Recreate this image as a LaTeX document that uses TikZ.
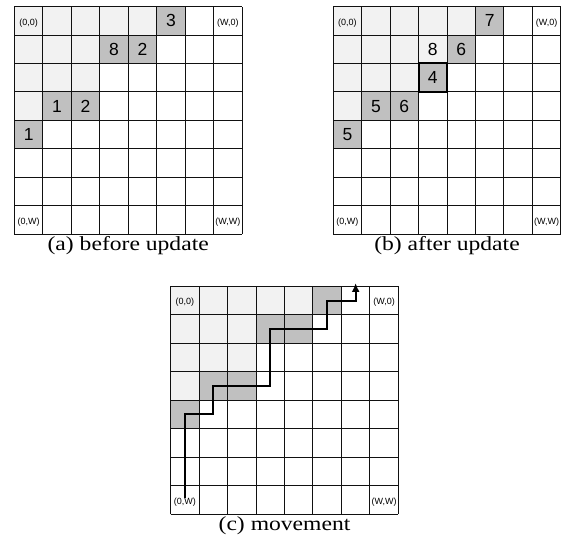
\documentclass[tikz,border=0pt]{standalone}
\usepackage{fontspec}
\setmainfont{Liberation Serif}
\setsansfont{Liberation Sans}
\usepackage{tikz}
\usetikzlibrary{arrows.meta,positioning}
\definecolor{pale}{HTML}{F2F2F2}
\definecolor{shade}{HTML}{C0C0C0}
\definecolor{ink}{HTML}{111111}
\tikzset{
  >={Latex[length=9pt,width=8pt]},
  gridline/.style={draw=ink,line width=1pt},
  palecell/.style={fill=pale},
  shadecell/.style={fill=shade},
  num/.style={inner sep=0pt,font=\sffamily\fontsize{17.5}{17.5}\selectfont},
  corner/.style={inner sep=0pt,yshift=-2pt,font=\sffamily\fontsize{9}{9}\selectfont},
  caption/.style={inner sep=0pt,xscale=1.18,font=\fontsize{20}{20}\selectfont},
  route/.style={->,line width=2pt,draw=black},
  focus/.style={draw=black,line width=2pt}
}

\begin{document}
\begin{tikzpicture}
  \useasboundingbox (0,0) rectangle (568pt,536pt);
  % (a) before update
  \begin{scope}[shift={(14.4pt,301.8pt)}]
    \fill[palecell] (0,8) -- (5,8) -- (5,7) -- (3,7) -- (3,5) -- (1,5) -- (1,4) -- (0,4) -- cycle;
    \fill[shadecell] (5,7) rectangle (6,8) (3,6) rectangle (5,7) (1,4) rectangle (3,5) (0,3) rectangle (1,4);
    \draw[gridline] (0,0) grid (8,8);
    \node[corner] (a00) at (0.5,7.5) {(0,0)};
    \node[corner] (aW0) at (7.5,7.5) {(W,0)};
    \node[corner] (a0W) at (0.5,0.5) {(0,W)};
    \node[corner] (aWW) at (7.5,0.5) {(W,W)};
    \node[num] (a3) at (5.5,7.5) {3};
    \node[num] (a8) at (3.5,6.5) {8};
    \node[num] (a2) at (4.5,6.5) {2};
    \node[num] (a1) at (1.5,4.5) {1};
    \node[num] (a2b) at (2.5,4.5) {2};
    \node[num] (a1b) at (0.5,3.5) {1};
    \coordinate (abot) at (4,0);
  \end{scope}
  \node[caption,below=16.5pt of abot,anchor=base] (capa) {(a) before update};

  % (b) after update
  \begin{scope}[shift={(333.2pt,301.8pt)}]
    \fill[palecell] (0,8) -- (5,8) -- (5,7) -- (4,7) -- (4,6) -- (3,6) -- (3,5) -- (1,5) -- (1,4) -- (0,4) -- cycle;
    \fill[shadecell] (5,7) rectangle (6,8) (4,6) rectangle (5,7) (3,5) rectangle (4,6) (1,4) rectangle (3,5) (0,3) rectangle (1,4);
    \draw[gridline] (0,0) grid (8,8);
    \draw[focus] (3,5) rectangle (4,6);
    \node[corner] (b00) at (0.5,7.5) {(0,0)};
    \node[corner] (bW0) at (7.5,7.5) {(W,0)};
    \node[corner] (b0W) at (0.5,0.5) {(0,W)};
    \node[corner] (bWW) at (7.5,0.5) {(W,W)};
    \node[num] (b7) at (5.5,7.5) {7};
    \node[num] (b8) at (3.5,6.5) {8};
    \node[num] (b6) at (4.5,6.5) {6};
    \node[num] (b4) at (3.5,5.5) {4};
    \node[num] (b5) at (1.5,4.5) {5};
    \node[num] (b6b) at (2.5,4.5) {6};
    \node[num] (b5b) at (0.5,3.5) {5};
    \coordinate (bbot) at (4,0);
  \end{scope}
  \node[caption,below=16.5pt of bbot,anchor=base] (capb) {(b) after update};

  % (c) movement
  \begin{scope}[shift={(170.7pt,22pt)}]
    \fill[palecell] (0,8) -- (5,8) -- (5,7) -- (3,7) -- (3,5) -- (1,5) -- (1,4) -- (0,4) -- cycle;
    \fill[shadecell] (5,7) rectangle (6,8) (3,6) rectangle (5,7) (1,4) rectangle (3,5) (0,3) rectangle (1,4);
    \draw[gridline] (0,0) grid (8,8);
    \node[corner] (c00) at (0.5,7.5) {(0,0)};
    \node[corner] (cW0) at (7.5,7.5) {(W,0)};
    \node[corner] (c0W) at (0.5,0.5) {(0,W)};
    \node[corner] (cWW) at (7.5,0.5) {(W,W)};
    \coordinate (start) at (0.5,0.57);
    \coordinate (s1) at (0.5,3.5);
    \coordinate (s2) at (1.5,3.5);
    \coordinate (s3) at (1.5,4.5);
    \coordinate (s4) at (3.5,4.5);
    \coordinate (s5) at (3.5,6.5);
    \coordinate (s6) at (5.5,6.5);
    \coordinate (s7) at (5.5,7.5);
    \coordinate (s8) at (6.5,7.5);
    \coordinate (goal) at (6.5,8.12);
    \draw[route] (start) -- (s1) -- (s2) -- (s3) -- (s4) -- (s5) -- (s6) -- (s7) -- (s8) -- (goal);
    \coordinate (cbot) at (4,0);
  \end{scope}
  \node[caption,below=16pt of cbot,anchor=base] (capc) {(c) movement};
\end{tikzpicture}
\end{document}
